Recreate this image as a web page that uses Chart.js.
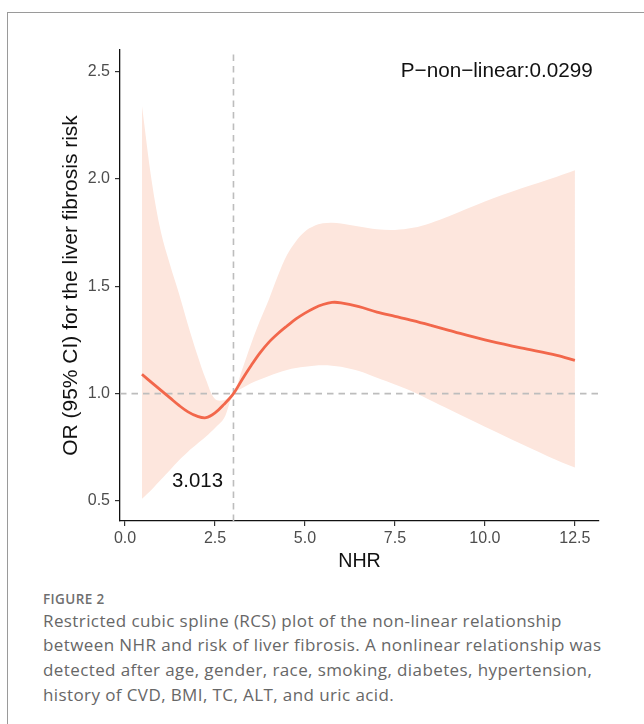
<!DOCTYPE html>
<html>
<head>
<meta charset="utf-8">
<script src="https://cdn.jsdelivr.net/npm/chart.js@4/dist/chart.umd.min.js"></script>
<style>
  html, body { margin: 0; padding: 0; background: #fff; }
  body { width: 644px; height: 724px; position: relative; overflow: hidden; }
  #frame { position: absolute; left: 7px; top: 12px; right: -20px; bottom: -20px;
           border-top: 1px solid #9a9a9a; border-left: 1px solid #9a9a9a; }
  #plot { position: absolute; left: 0; top: 0; width: 644px; height: 580px; }
  #caption { position: absolute; left: 43px; top: 589px; width: 600px;
             font-family: "Open Sans", "Noto Sans", sans-serif; color: #666; }
  #caption .fig { font-size: 13.5px; font-weight: 600; color: #6f6f6f; letter-spacing: 0.4px; line-height: 20px; }
  #caption .txt { font-size: 17px; font-weight: 400; letter-spacing: 0.4px; line-height: 24.7px;
                  margin-top: -0.5px; white-space: nowrap; color: #676767; }
</style>
</head>
<body>
<div id="frame"></div>
<div id="plot"><canvas id="c" width="644" height="580"></canvas></div>
<div id="caption">
  <div class="fig">FIGURE 2</div>
  <div class="txt">Restricted cubic spline (RCS) plot of the non-linear relationship<br>between NHR and risk of liver fibrosis. A nonlinear relationship was<br>detected after age, gender, race, smoking, diabetes, hypertension,<br>history of CVD, BMI, TC, ALT, and uric acid.</div>
</div>
<script>
// NHR values at which the spline and its 95% CI were evaluated
const nhr     = [0.47, 0.75, 1.0, 1.25, 1.5, 1.75, 2.0, 2.25, 2.5, 2.75, 3.013, 3.25, 3.5, 3.75, 4.0, 4.25, 4.5, 4.75, 5.0, 5.25, 5.5, 5.75, 6.0, 6.5, 7.0, 7.5, 8.0, 8.5, 9.0, 10.0, 11.0, 12.0, 12.5];
// Odds ratio estimate
const orValue = [1.09, 1.05, 1.015, 0.98, 0.945, 0.915, 0.895, 0.888, 0.91, 0.95, 1.0, 1.065, 1.13, 1.19, 1.24, 1.28, 1.315, 1.348, 1.375, 1.398, 1.415, 1.425, 1.423, 1.405, 1.38, 1.36, 1.34, 1.318, 1.295, 1.25, 1.213, 1.178, 1.155];
// Upper and lower 95% confidence limits
const ciUpper = [2.34, 1.98, 1.75, 1.60, 1.465, 1.32, 1.185, 1.065, 0.975, 0.97, 1.0, 1.11, 1.23, 1.34, 1.44, 1.55, 1.645, 1.71, 1.755, 1.78, 1.793, 1.796, 1.792, 1.778, 1.765, 1.762, 1.772, 1.795, 1.826, 1.895, 1.955, 2.01, 2.04];
const ciLower = [0.51, 0.555, 0.60, 0.645, 0.69, 0.73, 0.765, 0.80, 0.84, 0.885, 1.0, 1.025, 1.048, 1.066, 1.082, 1.097, 1.11, 1.119, 1.125, 1.13, 1.132, 1.13, 1.125, 1.105, 1.074, 1.043, 1.009, 0.968, 0.927, 0.846, 0.767, 0.69, 0.656];

// Reference values and axis ticks
const refOR      = 1.0;
const cutoffNHR  = 3.013;
const pNonLinear = "0.0299";
const xTicks = [0.0, 2.5, 5.0, 7.5, 10.0, 12.5];
const yTicks = [0.5, 1.0, 1.5, 2.0, 2.5];
const xRange = [-0.14, 13.17];
const yRange = [0.407, 2.60];

const pts = (ys) => nhr.map((x, i) => ({ x: x, y: ys[i] }));

const LINE = '#F2674B';
const BAND = '#FDE6DD';
const DASH = '#BDBDBD';
const TXT  = '#4D4D4D';
const FONT = '"Liberation Sans", Arial, Helvetica, sans-serif';
const SMOOTH = 0.35;

// Text annotations placed in data coordinates
const annotations = {
  id: 'annotations',
  afterDatasetsDraw(chart) {
    const { ctx, scales: { x, y } } = chart;
    ctx.save();
    ctx.fillStyle = '#111';
    ctx.textAlign = 'center';
    ctx.textBaseline = 'middle';
    ctx.font = '20.7px ' + FONT;
    ctx.fillText('P\u2212non\u2212linear:' + pNonLinear, x.getPixelForValue(10.33), y.getPixelForValue(2.50));
    ctx.font = '20.4px ' + FONT;
    ctx.fillText(cutoffNHR.toFixed(3), x.getPixelForValue(cutoffNHR - 1.0), y.getPixelForValue(0.59));
    ctx.restore();
  }
};

new Chart(document.getElementById('c'), {
  type: 'line',
  data: {
    datasets: [
      { label: 'OR', data: pts(orValue), borderColor: LINE, borderWidth: 2.8,
        pointRadius: 0, tension: SMOOTH, fill: false },
      { label: 'ref', data: [{ x: xRange[0], y: refOR }, { x: xRange[1], y: refOR }],
        borderColor: DASH, borderWidth: 1.6, borderDash: [6.5, 5], pointRadius: 0, fill: false },
      { label: 'cutoff', data: [{ x: cutoffNHR, y: yRange[0] }, { x: cutoffNHR, y: yRange[1] }],
        borderColor: DASH, borderWidth: 1.6, borderDash: [6.5, 5], pointRadius: 0, fill: false },
      { label: 'upper', data: pts(ciUpper), borderWidth: 0, borderColor: 'rgba(0,0,0,0)',
        backgroundColor: BAND, pointRadius: 0, tension: SMOOTH, fill: '+1' },
      { label: 'lower', data: pts(ciLower), borderWidth: 0, borderColor: 'rgba(0,0,0,0)',
        pointRadius: 0, tension: SMOOTH, fill: false }
    ]
  },
  options: {
    responsive: false,
    animation: false,
    layout: { padding: { left: 50, top: 50, right: 45, bottom: 0 } },
    plugins: { legend: { display: false }, tooltip: { enabled: false } },
    scales: {
      x: {
        type: 'linear', min: xRange[0], max: xRange[1],
        afterBuildTicks(s) { s.ticks = xTicks.map(v => ({ value: v })); },
        afterFit(s) { s.height = 59; },
        border: { display: true, color: '#111', width: 1.3 },
        grid: { drawOnChartArea: false, drawTicks: true, tickLength: 5, color: '#333', lineWidth: 1.2 },
        ticks: { color: TXT, font: { family: FONT, size: 16 }, padding: 3,
                 maxRotation: 0, autoSkip: false, callback: v => Number(v).toFixed(1) },
        title: { display: true, text: 'NHR', color: '#111',
                 font: { family: FONT, size: 19.7, lineHeight: 1.2 }, padding: { top: 0, bottom: 7 } }
      },
      y: {
        type: 'linear', min: yRange[0], max: yRange[1],
        afterBuildTicks(s) { s.ticks = yTicks.map(v => ({ value: v })); },
        afterFit(s) { s.width = 70; },
        border: { display: true, color: '#111', width: 1.3 },
        grid: { drawOnChartArea: false, drawTicks: true, tickLength: 5, color: '#333', lineWidth: 1.2 },
        ticks: { color: TXT, font: { family: FONT, size: 16 }, padding: 5,
                 autoSkip: false, callback: v => Number(v).toFixed(1) },
        title: { display: true, text: 'OR (95% CI) for the liver fibrosis risk', color: '#111',
                 font: { family: FONT, size: 21, lineHeight: 1.2 }, padding: { top: 9, bottom: 0 } }
      }
    }
  },
  plugins: [annotations]
});
</script>
</body>
</html>
